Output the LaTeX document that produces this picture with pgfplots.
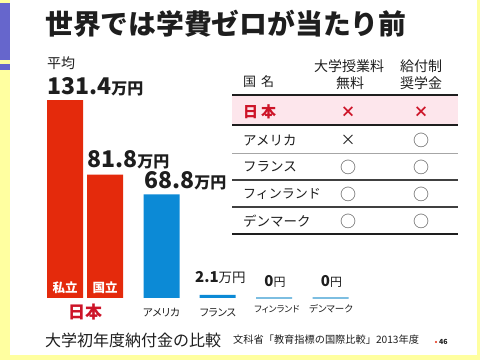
\documentclass[border=0pt]{standalone}
\usepackage{fontspec}
\setmainfont{Noto Sans CJK JP}
\newfontfamily\jpp[RawFeature=+palt]{Noto Sans CJK JP}
\usepackage{pgfplots}
\pgfplotsset{compat=1.18}
\definecolor{bgyellow}{RGB}{255,255,160}
\definecolor{stripblue}{RGB}{102,102,204}
\definecolor{barred}{RGB}{228,42,12}
\definecolor{barblue}{RGB}{12,138,214}
\definecolor{lightblue}{RGB}{125,190,225}
\definecolor{jpred}{RGB}{205,20,40}
\definecolor{pinkrow}{RGB}{253,230,236}
\definecolor{tblack}{RGB}{30,30,30}
\newcommand{\fs}[1]{\fontsize{#1}{#1}\selectfont}
\begin{document}
\begin{tikzpicture}
\fill[bgyellow] (0,0) rectangle (480pt,360pt);
\fill[white] (10pt,5pt) rectangle (477pt,360pt);
\fill[stripblue] (0,300pt) rectangle (10pt,357pt);
\fill[stripblue] (0,290pt) rectangle (10pt,296pt);
\begin{axis}[at={(0pt,0pt)}, anchor=south west, scale only axis,
  width=480pt, height=360pt, xmin=0, xmax=480, ymin=-41.15, ymax=197.77,
  hide axis, clip=false]
\addplot[ybar, bar width=36pt, bar shift=0pt, fill=barred, draw=none] coordinates {(65,131.4) (105,81.8)};
\addplot[ybar, bar width=36pt, bar shift=0pt, fill=barblue, draw=none] coordinates {(161.5,68.8) (217.5,2.1)};
\addplot[ybar, bar width=36pt, bar shift=0pt, fill=lightblue, draw=lightblue, line width=1.3pt] coordinates {(274,0) (330.5,0)};
\end{axis}
\begin{scope}[x=1pt,y=-1pt,shift={(0pt,360pt)}]
% title
\node[anchor=west, inner sep=0pt, text=tblack] at (45,23.5) {\fs{27.8pt}\bfseries 世界では学費ゼロが当たり前};
% value labels
\node[anchor=west, inner sep=0pt, text=tblack] at (47,63.5) {\fs{14pt}平均};
\node[anchor=west, inner sep=0pt, text=tblack] at (47,86.5) {\fs{23pt}\bfseries 131.4\fs{16pt}万円};
\node[anchor=west, inner sep=0pt, text=tblack] at (87,159.5) {\fs{23pt}\bfseries 81.8\fs{16pt}万円};
\node[anchor=west, inner sep=0pt, text=tblack] at (144,180.5) {\fs{23pt}\bfseries 68.8\fs{16pt}万円};
\node[anchor=west, inner sep=0pt, text=tblack] at (195,277.5) {\fs{15pt}\bfseries 2.1\fs{13.5pt}\mdseries 万円};
\node[inner sep=0pt, text=tblack] at (275,281) {\fs{15pt}\bfseries 0\fs{12pt}\mdseries 円};
\node[inner sep=0pt, text=tblack] at (331.5,281) {\fs{15pt}\bfseries 0\fs{12pt}\mdseries 円};
% inside-bar labels
\node[inner sep=0pt, text=white] at (65,288) {\fs{12.5pt}\bfseries 私立};
\node[inner sep=0pt, text=white] at (105,288) {\fs{12.5pt}\bfseries 国立};
% categories
\node[inner sep=0pt, text=jpred] at (85,312.5) {\fs{17pt}\bfseries 日本};
\node[inner sep=0pt, text=tblack] at (161.5,312.5) {\jpp\fs{10.5pt}アメリカ};
\node[inner sep=0pt, text=tblack] at (218,312.5) {\jpp\fs{10.5pt}フランス};
\node[inner sep=0pt, text=tblack] at (277,309) {\jpp\fs{9pt}フィンランド};
\node[inner sep=0pt, text=tblack] at (331,309) {\jpp\fs{9.5pt}デンマーク};
% table
\fill[pinkrow] (232,95) rectangle (458,125);
\draw[line width=2.5pt, tblack] (232,95) -- (458,95);
\draw[line width=2pt, tblack] (232,125) -- (458,125);
\draw[line width=1pt, gray!70] (232,153) -- (458,153);
\draw[line width=1.5pt, black!75] (232,180) -- (458,180);
\draw[line width=1.5pt, black!75] (232,207) -- (458,207);
\draw[line width=2.5pt, tblack] (232,234) -- (458,234);
\node[anchor=west, inner sep=0pt, text=tblack] at (243,81.5) {\fs{13pt}国\hspace{5pt}名};
\node[inner sep=0pt, text=tblack] at (349,66) {\fs{14pt}大学授業料};
\node[inner sep=0pt, text=tblack] at (350,83) {\fs{14pt}無料};
\node[inner sep=0pt, text=tblack] at (421,66) {\fs{14pt}給付制};
\node[inner sep=0pt, text=tblack] at (421,83) {\fs{14pt}奨学金};
\node[anchor=west, inner sep=0pt, text=jpred] at (243,112) {\fs{15pt}\bfseries 日\hspace{3pt}本};
\node[anchor=west, inner sep=0pt, text=tblack] at (243,140) {\fs{13.5pt}アメリカ};
\node[anchor=west, inner sep=0pt, text=tblack] at (243,167) {\fs{13.5pt}フランス};
\node[anchor=west, inner sep=0pt, text=tblack] at (243,194) {\fs{13pt}フィンランド};
\node[anchor=west, inner sep=0pt, text=tblack] at (243,221) {\fs{13.5pt}デンマーク};
\node[inner sep=0pt, text=jpred] at (348,112) {\fs{15pt}\bfseries ×};
\node[inner sep=0pt, text=jpred] at (421,112) {\fs{15pt}\bfseries ×};
\node[inner sep=0pt, text=tblack] at (348,140) {\fs{15pt}×};
\foreach \yy in {140,167,194,221} \node[inner sep=0pt, text=black!70] at (421,\yy) {\fs{16pt}○};
\foreach \yy in {167,194,221} \node[inner sep=0pt, text=black!70] at (348,\yy) {\fs{16pt}○};
% footer
\node[anchor=west, inner sep=0pt, text=tblack] at (45,340) {\fs{16pt}大学初年度納付金の比較};
\node[anchor=west, inner sep=0pt, text=tblack] at (233,340) {\fs{10.2pt}文科省「教育指標の国際比較」2013年度};
\fill[barred] (436,342) circle (1.2);
\node[anchor=west, inner sep=0pt, text=tblack] at (439,342) {\fs{7pt}\bfseries 46};
\end{scope}
\end{tikzpicture}
\end{document}
